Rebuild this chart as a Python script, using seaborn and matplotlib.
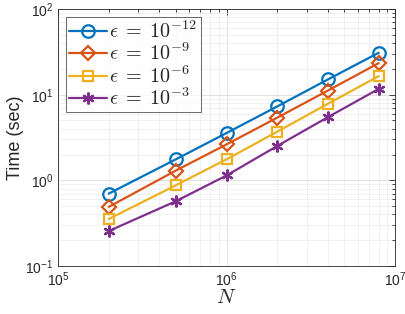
import matplotlib
matplotlib.use("Agg")
import matplotlib.pyplot as plt
import seaborn as sns
import pandas as pd

# ── Data ──────────────────────────────────────────────────────────────────── #
N = [2e5, 5e5, 1e6, 2e6, 4e6, 8e6]
eps_labels = [r"$\epsilon\;=\;10^{-12}$", r"$\epsilon\;=\;10^{-9}$",
              r"$\epsilon\;=\;10^{-6}$", r"$\epsilon\;=\;10^{-3}$"]
t_eps12 = [0.70, 1.76, 3.57, 7.3, 15.1, 30.9]
t_eps9 = [0.49, 1.30, 2.63, 5.4, 11.2, 23.4]
t_eps6 = [0.354, 0.875, 1.76, 3.7, 7.85, 16.5]
t_eps3 = [0.256, 0.57, 1.14, 2.52, 5.48, 11.7]

series = [t_eps12, t_eps9, t_eps6, t_eps3]
colors = ["#0072BD", "#D95319", "#EDB120", "#7E2F8E"]
markers = ["o", "D", "s", (6, 2, 0)]
msizes = [9, 7.5, 6.5, 8.5]

# ── Style ─────────────────────────────────────────────────────────────────── #
sns.set_theme(style="white")
plt.rcParams["font.family"] = ["Liberation Sans", "DejaVu Sans"]
plt.rcParams["mathtext.fontset"] = "cm"
plt.rcParams["xtick.direction"] = "in"
plt.rcParams["ytick.direction"] = "in"

fig = plt.figure(figsize=(4.06, 3.14), dpi=100)
ax = fig.add_axes([0.143, 0.153, 0.830, 0.818])

for lab, vals, c, m, ms in zip(eps_labels, series, colors, markers, msizes):
    df = pd.DataFrame({"N": N, "t": vals})
    sns.lineplot(data=df, x="N", y="t", ax=ax, color=c, marker=m, lw=1.6,
                 ms=ms, mfc="none", mec=c, mew=1.6, label=lab)

ax.set_xscale("log")
ax.set_yscale("log")
ax.set_xlim(1e5, 1e7)
ax.set_ylim(1e-1, 1e2)

ax.grid(True, which="major", color="#dcdcdc", lw=0.6)
ax.grid(True, which="minor", color="#ececec", lw=0.5)
ax.tick_params(which="both", top=True, right=True, labelsize=10, colors="#262626",
               width=0.6)
ax.tick_params(which="major", length=4)
ax.tick_params(which="minor", length=2)
for s in ax.spines.values():
    s.set_color("#262626")
    s.set_linewidth(0.6)

ax.set_xlabel("$N$", fontsize=15, labelpad=-1)
ax.set_ylabel("Time (sec)", fontsize=13, labelpad=1)

leg = ax.legend(loc="upper left", fontsize=14.5, frameon=True, fancybox=False,
                borderpad=0.15, labelspacing=0.05, handlelength=1.9,
                handletextpad=0.1, borderaxespad=0.4)
leg.get_frame().set_edgecolor("#262626")
leg.get_frame().set_linewidth(0.6)

fig.savefig("out.png", dpi=100)
